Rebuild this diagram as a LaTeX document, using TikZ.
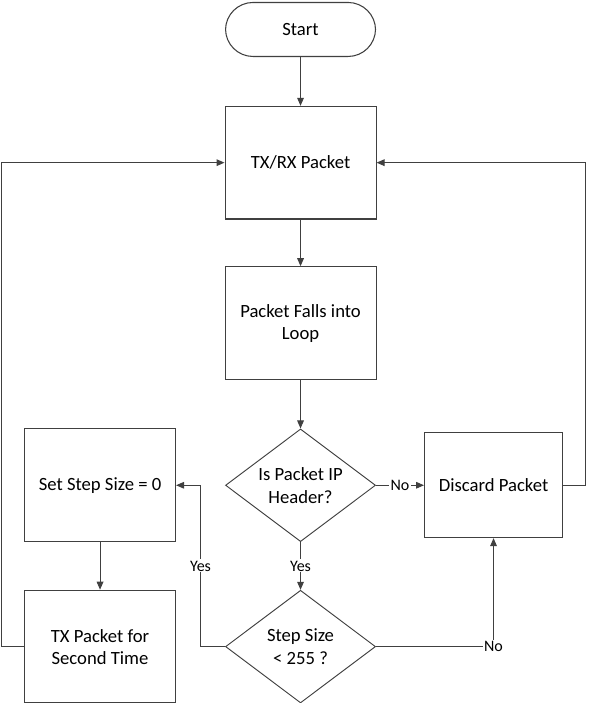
\documentclass[tikz,border=0pt]{standalone}
\usepackage{fontspec}
\setmainfont{Carlito}
\usetikzlibrary{positioning, arrows.meta, shapes.geometric}
\tikzset{
  process/.style={
    draw=black!75,
    rectangle,
    line width=0.8pt,
    minimum width=113.25pt,
    minimum height=84.5pt,
    align=center,
    font=\fontsize{14}{16.5}\selectfont
  },
  terminal/.style={
    process,
    rounded corners=20.6pt,
    minimum width=112.5pt,
    minimum height=40.5pt
  },
  decision/.style={
    draw=black!75,
    diamond,
    aspect=1.35,
    line width=0.7pt,
    inner sep=-6pt,
    minimum width=112.5pt,
    minimum height=84.5pt,
    align=center,
    font=\fontsize{14}{17}\selectfont
  },
  flow/.style={
    draw=black!75,
    line width=0.75pt,
    -{Triangle[length=6pt, width=5pt]}
  },
  lbl/.style={
    fill=white,
    inner sep=1pt,
    font=\fontsize{12}{14}\selectfont
  }
}

\begin{document}
\begin{tikzpicture}
        \useasboundingbox (0,0) rectangle (441.75pt,-527.25pt);
        \node[terminal] (start) at (225.4pt,-22.1pt) {Start};
        \node[process, below=36.6pt of start] (txrx) {TX/RX Packet};
        \node[process, below=35pt of txrx] (falls) {Packet Falls into\\Loop};
        \node[decision, below=36.4pt of falls] (ipcheck) {Is Packet IP\\Header?};
        \node[decision, below=35.8pt of ipcheck] (sizecheck) {Step Size\\\textless{} 255 ?};
        \node[process, left=36.75pt of ipcheck] (setstep) {Set Step Size = 0};
        \node[process, left=36.75pt of sizecheck] (txsecond) {TX Packet for\\Second Time};
        \node[process, right=36pt of ipcheck, minimum width=103.5pt, minimum height=78.5pt] (discard) {Discard Packet};

        \draw[flow] (start) -- (txrx);
        \draw[flow] (txrx) -- (falls);
        \draw[flow] (falls) -- (ipcheck);
        \draw[flow] (ipcheck) -- node[lbl] {No} (discard);
        \draw[flow] (ipcheck) -- node[lbl] {Yes} (sizecheck);
        \draw[flow] (sizecheck.west) -- ++(-18.4pt,0) |- node[lbl, pos=0.25] {Yes} (setstep.east);
        \draw[flow] (sizecheck.east) -| node[lbl, pos=0.5] {No} (discard.south);
        \draw[flow] (setstep) -- (txsecond);
        \draw[flow] (txsecond.west) -- ++(-16.9pt,0) |- (txrx.west);
        \draw[flow] (discard.east) -- ++(16.5pt,0) |- (txrx.east);
      \end{tikzpicture}
\end{document}
